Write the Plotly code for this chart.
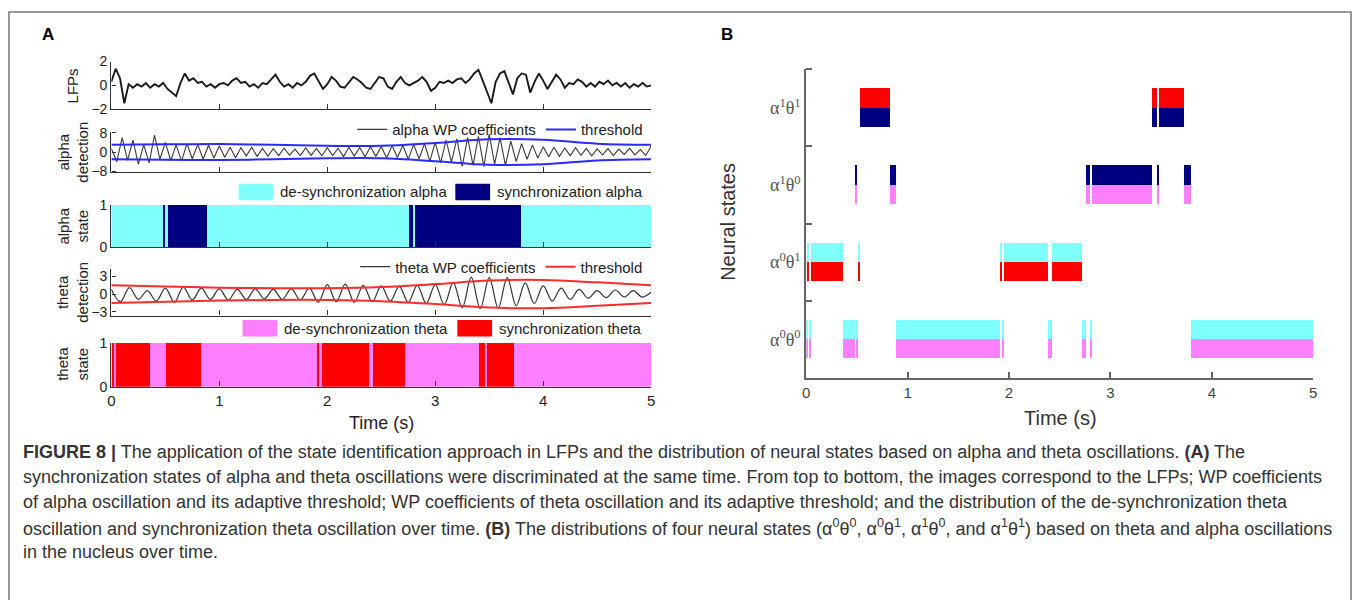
import plotly.graph_objects as go
import numpy as np

W, H = 1357, 600
def px(x): return x / W
def py(y): return 1 - y / H

# ---------------- data ----------------
lfp_dt = 0.04
lfp = [0.3, 1.4, 0.6, -1.5, 0.1, -0.2, 0.1, -0.1, 0.2, -0.2, 0.1, -0.1, 0.2, -0.3, -0.6, -0.9,
       0.2, 1.0, 0.4, 0.6, 0.2, 0.3, -0.1, 0.1, -0.2, 0.1, 0.2, 0.0, 0.4, 0.6, 0.2, 0.3,
       -0.1, 0.1, -0.2, 0.2, 0.1, 0.5, 0.9, 0.3, -0.1, 0.1, -0.2, 0.2, 0.0, 0.3, 0.8, 1.0,
       0.3, -0.3, 0.1, 0.7, 0.4, -0.1, -0.2, 0.3, 0.7, 0.5, 0.2, -0.2, -0.3, 0.2, 0.7, 0.6,
       -0.1, -0.3, 0.3, 0.7, 0.2, 0.0, 0.2, 0.4, 0.7, 0.3, -0.45, -0.2, 0.3, 0.2, 0.4, 0.2,
       0.5, 0.6, 0.2, 0.5, 1.0, 1.3, 0.4, -0.6, -1.5, 0.3, 1.0, 1.2, 0.2, -0.75, 0.6, 1.0,
       0.9, -0.6, 0.3, 1.0, 0.4, -0.3, 0.3, 0.9, 0.5, -0.2, 0.2, 0.1, 0.5, 0.3, -0.1, 0.2,
       -0.1, 0.3, 0.1, 0.4, 0.0, 0.2, -0.1, 0.2, -0.2, 0.1, -0.1, 0.2, -0.1, 0.0]

alpha_dt = 0.05
alpha_wp = [1.5, -4.0, 6.0, -3.5, 5.0, -5.0, 3.0, -4.5, 7.0, -3.0,
            4.0, -3.5, 3.0, -3.8, 3.5, -2.8, 3.2, -3.0, 2.8, -2.5,
            2.5, -2.2, 2.0, -2.4, 1.8, -1.6, 2.0, -1.8, 1.5, -1.7,
            1.4, -1.5, 1.6, -1.3, 1.2, -1.5, 1.7, -1.4, 1.5, -1.6,
            1.8, -1.5, 1.6, -1.9, 2.0, -1.7, 1.9, -2.0, 2.2, -1.8,
            2.3, -2.5, 2.6, -2.3, 2.8, -3.0, 3.2, -2.8, 3.5, -3.8,
            4.0, -4.5, 5.0, -4.2, 5.5, -6.0, 6.0, -5.5, 6.5, -6.0,
            7.5, -5.0, 6.0, -5.5, 4.5, -4.0, 3.5, -3.0, 3.0, -2.5,
            2.2, -2.0, 2.0, -1.8, 1.7, -1.5, 1.8, -1.4, 1.5, -1.6,
            1.3, -1.2, 1.4, -1.5, 1.2, -1.0, 1.5, -1.2, 1.0, -1.4, 2.5]

theta_dt = 5 / 60
theta_wp = [0.8, -1.3, 1.1, -0.9, 0.6, -1.2, 1.0, -1.4, 1.2, -1.0, 1.0, -0.9,
            0.9, -1.0, 0.8, -0.9, 0.9, -0.8, 0.8, -0.9, 0.9, -1.0, 1.0, -1.4,
            1.6, -1.3, 1.7, -1.4, 1.5, -1.3, 1.4, -1.2, 1.3, -1.4, 1.5, -1.6,
            1.6, -1.8, 2.0, -2.3, 2.9, -2.5, 2.8, -2.4, 2.8, -2.0, 1.9, -1.6,
            1.4, -1.2, 1.0, -0.9, 0.8, -0.7, 0.6, -0.6, 0.7, -0.5, 0.6, -0.5, 0.3]

thr_t = [0, 0.5, 1.0, 1.5, 2.0, 2.5, 3.0, 3.5, 4.0, 4.5, 5.0]
alpha_thr = [3.0, 3.2, 3.3, 3.0, 2.6, 2.6, 3.8, 5.3, 5.1, 3.5, 3.0]
theta_thr = [1.5, 1.3, 1.1, 1.0, 1.0, 1.2, 1.7, 2.3, 2.4, 2.0, 1.5]

alpha_sync = [(0.48, 0.50), (0.53, 0.89), (2.76, 2.80), (2.82, 3.80)]
theta_sync = [(0.01, 0.03), (0.05, 0.36), (0.51, 0.83), (1.91, 1.93), (1.95, 2.39),
              (2.43, 2.72), (3.41, 3.46), (3.48, 3.73)]

state_labels = ['α<sup>0</sup>θ<sup>0</sup>', 'α<sup>0</sup>θ<sup>1</sup>',
                'α<sup>1</sup>θ<sup>0</sup>', 'α<sup>1</sup>θ<sup>1</sup>']
time_ticks = [0, 1, 2, 3, 4, 5]

C_CYAN, C_NAVY, C_PINK, C_RED = '#80FFFF', '#000080', '#FF80FF', '#FF0000'
C_BLUE = '#2a2aff'

# ---------------- helpers ----------------
def complement(segs, lo=0.0, hi=5.0):
    out, cur = [], lo
    for a, b in sorted(segs):
        if a > cur:
            out.append((cur, a))
        cur = max(cur, b)
    if cur < hi:
        out.append((cur, hi))
    return out

def intersect(s1, s2):
    out = []
    for a, b in s1:
        for c, d in s2:
            lo, hi = max(a, c), min(b, d)
            if hi > lo:
                out.append((lo, hi))
    return out

alpha_desync = complement(alpha_sync)
theta_desync = complement(theta_sync)

fig = go.Figure()

def vbars(segs, color, xa, ya):
    if not segs:
        return
    fig.add_trace(go.Bar(x=[(a + b) / 2 for a, b in segs], y=[1] * len(segs),
                         width=[b - a for a, b in segs], marker=dict(color=color, line=dict(width=0)),
                         xaxis=xa, yaxis=ya, showlegend=False, hoverinfo='skip'))

def hbars(segs, color, yc):
    if not segs:
        return
    fig.add_trace(go.Bar(orientation='h', base=[a for a, b in segs], x=[b - a for a, b in segs],
                         y=[yc] * len(segs), width=0.25, marker=dict(color=color, line=dict(width=0)),
                         xaxis='x6', yaxis='y6', showlegend=False, hoverinfo='skip'))

# LFP
t_lfp = np.arange(len(lfp)) * lfp_dt
fig.add_trace(go.Scatter(x=t_lfp, y=lfp, mode='lines', line=dict(color='#1a1a1a', width=1.9),
                         xaxis='x', yaxis='y', showlegend=False))

# alpha detection
t_a = np.arange(len(alpha_wp)) * alpha_dt
fig.add_trace(go.Scatter(x=t_a, y=alpha_wp, mode='lines', line=dict(color='#3a3a3a', width=1.1),
                         name='alpha WP coefficients', xaxis='x2', yaxis='y2', legend='legend'))
fig.add_trace(go.Scatter(x=thr_t, y=alpha_thr, mode='lines', line=dict(color=C_BLUE, width=2, shape='spline'),
                         name='threshold', xaxis='x2', yaxis='y2', legend='legend', legendgroup='at'))
fig.add_trace(go.Scatter(x=thr_t, y=[-v for v in alpha_thr], mode='lines',
                         line=dict(color=C_BLUE, width=2, shape='spline'),
                         showlegend=False, xaxis='x2', yaxis='y2', legendgroup='at'))

# alpha state
vbars(alpha_desync, C_CYAN, 'x3', 'y3')
vbars(alpha_sync, C_NAVY, 'x3', 'y3')

# theta detection
t_t = np.arange(len(theta_wp)) * theta_dt
fig.add_trace(go.Scatter(x=t_t, y=theta_wp, mode='lines', line=dict(color='#333333', width=1.2, shape='spline'),
                         name='theta WP coefficients', xaxis='x4', yaxis='y4', legend='legend2'))
fig.add_trace(go.Scatter(x=thr_t, y=theta_thr, mode='lines', line=dict(color='#ff2a2a', width=2, shape='spline'),
                         name='threshold', xaxis='x4', yaxis='y4', legend='legend2', legendgroup='tt'))
fig.add_trace(go.Scatter(x=thr_t, y=[-v for v in theta_thr], mode='lines',
                         line=dict(color='#ff2a2a', width=2, shape='spline'),
                         showlegend=False, xaxis='x4', yaxis='y4', legendgroup='tt'))

# theta state
vbars(theta_desync, C_PINK, 'x5', 'y5')
vbars(theta_sync, C_RED, 'x5', 'y5')

# panel B
s00 = intersect(alpha_desync, theta_desync)
s01 = intersect(alpha_desync, theta_sync)
s10 = intersect(alpha_sync, theta_desync)
s11 = intersect(alpha_sync, theta_sync)
hbars(s00, C_CYAN, 1.125); hbars(s00, C_PINK, 0.875)
hbars(s01, C_CYAN, 2.125); hbars(s01, C_RED, 1.875)
hbars(s10, C_NAVY, 3.125); hbars(s10, C_PINK, 2.875)
hbars(s11, C_RED, 4.125); hbars(s11, C_NAVY, 3.875)

# ---------------- layout ----------------
AX = '#333333'
FONT = 'Liberation Sans, Arial, sans-serif'
xa_dom = [px(108), px(651)]

def xaxis(anchor, labels=False):
    return dict(domain=xa_dom, range=[0, 5], anchor=anchor, showline=True, linecolor=AX, linewidth=1.3,
                ticks='inside', ticklen=5, tickcolor=AX, tickvals=time_ticks, showticklabels=labels,
                showgrid=False, zeroline=False, tickfont=dict(size=15, color='#222', family=FONT))

def yaxis(anchor, dom, rng, tv):
    return dict(domain=dom, range=rng, anchor=anchor, showline=True, linecolor=AX, linewidth=1.3,
                ticks='inside', ticklen=4, tickcolor=AX, tickvals=tv, showgrid=False, zeroline=False,
                tickfont=dict(size=14, color='#222', family=FONT))

layout = dict(
    width=W, height=H, autosize=False, margin=dict(l=0, r=0, t=0, b=0),
    paper_bgcolor='white', plot_bgcolor='rgba(0,0,0,0)', barmode='overlay', bargap=0,
    font=dict(family=FONT, color='#222'),
    xaxis=xaxis('y'), yaxis=yaxis('x', [py(104), py(55)], [-2, 2], [-2, 0, 2]),
    xaxis2=xaxis('y2'), yaxis2=yaxis('x2', [py(169), py(127)], [-8.5, 8.5], [-8, 0, 8]),
    xaxis3=xaxis('y3'), yaxis3=yaxis('x3', [py(246), py(202)], [0, 1], [0, 1]),
    xaxis4=xaxis('y4'), yaxis4=yaxis('x4', [py(316), py(268)], [-3.66, 4.3], [-3, 0, 3]),
    xaxis5=xaxis('y5', True), yaxis5=yaxis('x5', [py(389), py(344)], [0, 1], [0, 1]),
    xaxis6=dict(domain=[px(807), px(1317)], range=[0, 5], anchor='y6', showline=True, linecolor='#666',
                linewidth=2, ticks='inside', ticklen=6, tickwidth=2, tickcolor='#666', tickvals=time_ticks,
                showgrid=False, zeroline=False, tickfont=dict(size=15, color='#444', family=FONT)),
    yaxis6=dict(domain=[py(380), py(63)], range=[0.5, 4.5], anchor='x6', showline=True, linecolor='#666',
                linewidth=2, ticks='', tickvals=[1, 2, 3, 4], ticktext=state_labels,
                minor=dict(tickvals=[1.5, 2.5, 3.5, 4.5], ticks='inside', ticklen=6, tickwidth=2, tickcolor='#666'),
                showgrid=False, zeroline=False,
                tickfont=dict(size=18, color='#555', family='Liberation Serif, Times New Roman, serif')),
    legend=dict(orientation='h', x=px(648), xanchor='right', y=py(125), yanchor='middle',
                bgcolor='rgba(0,0,0,0)', font=dict(size=15, color='#222', family=FONT), itemwidth=30,
                tracegroupgap=0),
    legend2=dict(orientation='h', x=px(648), xanchor='right', y=py(266), yanchor='middle',
                 bgcolor='rgba(0,0,0,0)', font=dict(size=15, color='#222', family=FONT), itemwidth=30,
                 tracegroupgap=0),
)

shapes = [dict(type='rect', xref='paper', yref='paper', x0=px(5), x1=px(1355), y0=-0.1, y1=py(4),
               line=dict(color='#777', width=1.5), fillcolor='rgba(0,0,0,0)', layer='below')]
annotations = []

def box_legend(x0, yc, color, text):
    shapes.append(dict(type='rect', xref='paper', yref='paper', x0=px(x0), x1=px(x0 + 35),
                       y0=py(yc + 8.5), y1=py(yc - 8.5), fillcolor=color, line=dict(width=0)))
    annotations.append(dict(text=text, xref='paper', yref='paper', x=px(x0 + 40), y=py(yc),
                            xanchor='left', yanchor='middle', showarrow=False,
                            font=dict(size=15, color='#222', family=FONT)))

box_legend(236, 189, C_CYAN, 'de-synchronization alpha')
box_legend(454, 189, C_NAVY, 'synchronization alpha')
box_legend(240, 329, C_PINK, 'de-synchronization theta')
box_legend(456, 329, C_RED, 'synchronization theta')

def ann(text, x, y, size, angle=0, color='#222', family=FONT, xanchor='center'):
    annotations.append(dict(text=text, xref='paper', yref='paper', x=px(x), y=py(y), textangle=angle,
                            xanchor=xanchor, yanchor='middle', showarrow=False,
                            font=dict(size=size, color=color, family=family)))

ann('<b>A</b>', 44, 27, 17, color='#000')
ann('<b>B</b>', 727, 27, 17, color='#000')
ann('LFPs', 69, 80, 15, angle=-90)
ann('alpha<br>detection', 69, 148, 15, angle=-90)
ann('alpha<br>state', 69, 224, 15, angle=-90)
ann('theta<br>detection', 69, 292, 15, angle=-90)
ann('theta<br>state', 69, 366, 15, angle=-90)
ann('Time (s)', 380, 426, 18)
ann('Neural states', 728, 220, 20, angle=-90, color='#333')
ann('Time (s)', 1063, 421, 20, color='#333')

caption = [
    '<b>FIGURE 8 |</b> The application of the state identification approach in LFPs and the distribution of neural states based on alpha and theta oscillations. <b>(A)</b> The',
    'synchronization states of alpha and theta oscillations were discriminated at the same time. From top to bottom, the images correspond to the LFPs; WP coefficients',
    'of alpha oscillation and its adaptive threshold; WP coefficients of theta oscillation and its adaptive threshold; and the distribution of the de-synchronization theta',
    'oscillation and synchronization theta oscillation over time. <b>(B)</b> The distributions of four neural states (α<sup>0</sup>θ<sup>0</sup>, α<sup>0</sup>θ<sup>1</sup>, α<sup>1</sup>θ<sup>0</sup>, and α<sup>1</sup>θ<sup>1</sup>) based on theta and alpha oscillations',
    'in the nucleus over time.',
]
for i, line in enumerate(caption):
    ann(line, 17, 456 + 25.8 * i, 18, color='#333', family='Liberation Sans Narrow, Liberation Sans, Arial', xanchor='left')

layout['shapes'] = shapes
layout['annotations'] = annotations
fig.update_layout(**layout)
fig.write_html('out.html', config={'displayModeBar': False},
               post_script="document.body.style.margin='0';document.body.style.overflow='hidden';")
